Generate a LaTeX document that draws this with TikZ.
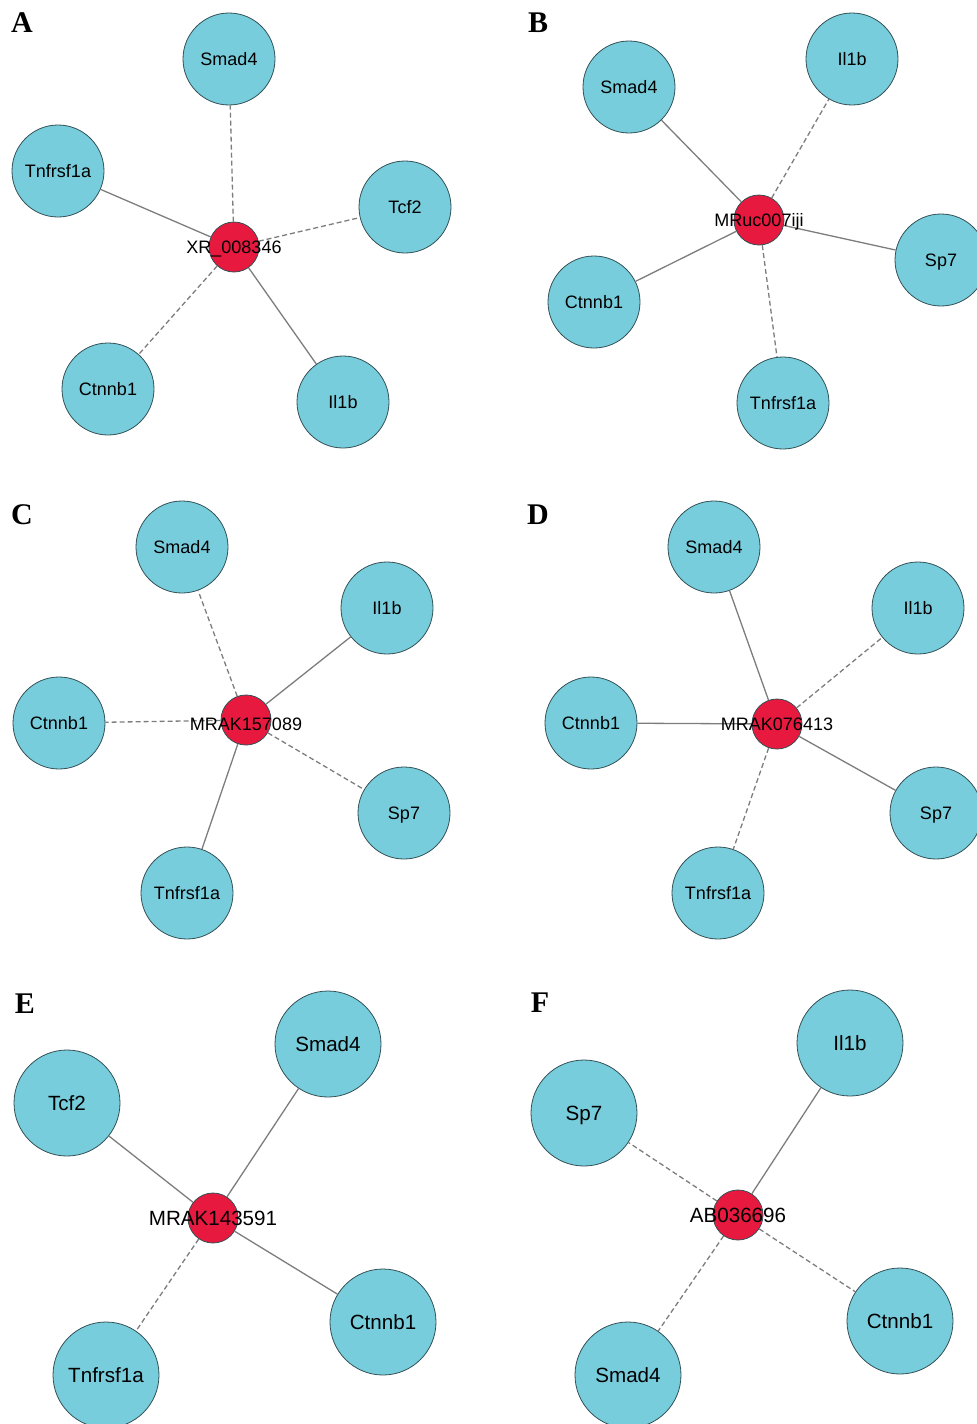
\documentclass[tikz,border=0pt]{standalone}
\usepackage{fontspec}
\setmainfont{Liberation Sans}
\newfontfamily\panelfont{Liberation Serif}
\usepackage{xcolor}
\definecolor{genecyan}{RGB}{120,205,220}
\definecolor{hubred}{RGB}{232,25,63}
\definecolor{generim}{RGB}{50,80,85}
\definecolor{linkgray}{RGB}{125,125,125}

\begin{document}
\begin{tikzpicture}[x=0.5pt,y=-0.5pt]
    \tikzstyle{gene}=[circle,fill=genecyan,draw=generim,line width=0.4pt,minimum size=46pt,inner sep=0pt,text height=6.4pt,text depth=0pt,font=\fontsize{9}{10}\selectfont]
    \tikzstyle{big gene}=[gene,minimum size=53pt,text height=7.4pt,font=\fontsize{10.3}{12}\selectfont]
    \tikzstyle{hub}=[circle,fill=hubred,draw=generim,line width=0.4pt,minimum size=25pt,inner sep=0pt]
    \tikzstyle{hub label}=[inner sep=0pt,text height=6.4pt,text depth=0pt,font=\fontsize{9}{10}\selectfont]
    \tikzstyle{big hub label}=[hub label,text height=7.4pt,font=\fontsize{10.3}{12}\selectfont]
    \tikzstyle{panel}=[inner sep=0pt,font=\panelfont\bfseries\fontsize{15}{16}\selectfont]
    \tikzstyle{solid link}=[draw=linkgray,line width=0.65pt]
    \tikzstyle{dashed link}=[solid link,dash pattern=on 2.5pt off 1.5pt]

    \useasboundingbox (0,0) rectangle (976,1424);

    % Panel A
    \node[panel] (A) at (22,23) {A};
    \node[hub] (A-0) at (234,247) {};
    \foreach \name/\x/\y/\gene in {1/229/59/Smad4,2/58/171/Tnfrsf1a,3/405/207/Tcf2,4/108/389/Ctnnb1,5/343/402/Il1b}
        \node[gene] (A-\name) at (\x,\y) {\gene};
    \foreach \dest in {2,5}
        \draw[solid link] (A-0) -- (A-\dest);
    \foreach \dest in {1,3,4}
        \draw[dashed link] (A-0) -- (A-\dest);
    \node[hub label] (A-lbl) at (A-0) {XR\_008346};

    % Panel B
    \node[panel] (B) at (538,23) {B};
    \node[hub] (B-0) at (759,220) {};
    \foreach \name/\x/\y/\gene in {1/629/87/Smad4,2/852/59/Il1b,3/941/260/Sp7,4/594/302/Ctnnb1,5/783/403/Tnfrsf1a}
        \node[gene] (B-\name) at (\x,\y) {\gene};
    \foreach \dest in {1,3,4}
        \draw[solid link] (B-0) -- (B-\dest);
    \foreach \dest in {2,5}
        \draw[dashed link] (B-0) -- (B-\dest);
    \node[hub label] (B-lbl) at (B-0) {MRuc007iji};

    % Panel C
    \node[panel] (C) at (22,515) {C};
    \node[hub] (C-0) at (246,720) {};
    \foreach \name/\x/\y/\gene in {1/182/547/Smad4,2/387/608/Il1b,3/59/723/Ctnnb1,4/404/813/Sp7,5/187/893/Tnfrsf1a}
        \node[gene] (C-\name) at (\x,\y) {\gene};
    \foreach \dest in {2,5}
        \draw[solid link] (C-0) -- (C-\dest);
    \foreach \dest in {1,3,4}
        \draw[dashed link] (C-0) -- (C-\dest);
    \node[hub label] (C-lbl) at ([yshift=-2pt]C-0) {MRAK157089};

    % Panel D
    \node[panel] (D) at (538,515) {D};
    \node[hub] (D-0) at (777,724) {};
    \foreach \name/\x/\y/\gene in {1/714/547/Smad4,2/918/608/Il1b,3/591/723/Ctnnb1,4/936/813/Sp7,5/718/893/Tnfrsf1a}
        \node[gene] (D-\name) at (\x,\y) {\gene};
    \foreach \dest in {1,3,4}
        \draw[solid link] (D-0) -- (D-\dest);
    \foreach \dest in {2,5}
        \draw[dashed link] (D-0) -- (D-\dest);
    \node[hub label] (D-lbl) at (D-0) {MRAK076413};

    % Panel E
    \node[panel] (E) at (25,1004) {E};
    \node[hub] (E-0) at (213,1218) {};
    \foreach \name/\x/\y/\gene in {1/328/1044/Smad4,2/67/1103/Tcf2,3/383/1322/Ctnnb1,4/106/1375/Tnfrsf1a}
        \node[big gene] (E-\name) at (\x,\y) {\gene};
    \foreach \dest in {1,2,3}
        \draw[solid link] (E-0) -- (E-\dest);
    \draw[dashed link] (E-0) -- (E-4);
    \node[big hub label] (E-lbl) at (E-0) {MRAK143591};

    % Panel F
    \node[panel] (F) at (540,1003) {F};
    \node[hub] (F-0) at (738,1215) {};
    \foreach \name/\x/\y/\gene in {1/850/1043/Il1b,2/584/1113/Sp7,3/900/1321/Ctnnb1,4/628/1375/Smad4}
        \node[big gene] (F-\name) at (\x,\y) {\gene};
    \draw[solid link] (F-0) -- (F-1);
    \foreach \dest in {2,3,4}
        \draw[dashed link] (F-0) -- (F-\dest);
    \node[big hub label] (F-lbl) at (F-0) {AB036696};
\end{tikzpicture}
\end{document}
